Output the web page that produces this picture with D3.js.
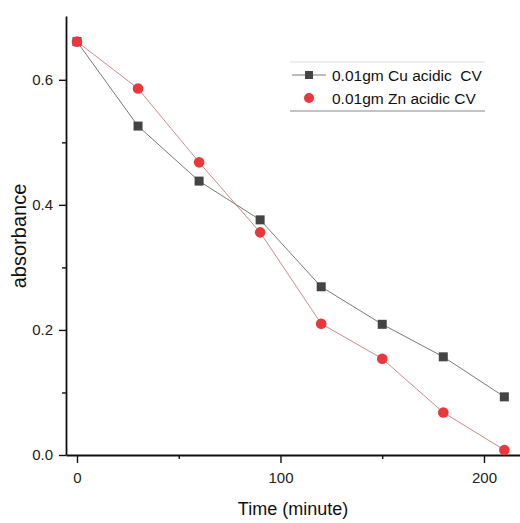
<!DOCTYPE html>
<html>
<head>
<meta charset="utf-8">
<script src="https://cdn.jsdelivr.net/npm/d3@7"></script>
<style>
  body { margin: 0; background: #fff; }
  text { font-family: "Liberation Sans", Arial, sans-serif; }
</style>
</head>
<body>
<div id="chart"></div>
<script>
const times = [0, 30, 60, 90, 120, 150, 180, 210];
const cuValues = [0.661, 0.526, 0.438, 0.376, 0.269, 0.209, 0.157, 0.093];
const znValues = [0.661, 0.586, 0.468, 0.356, 0.210, 0.154, 0.068, 0.008];
const seriesNames = ["0.01gm Cu acidic  CV", "0.01gm Zn acidic CV"];
const xTicks = [0, 100, 200], xMinor = [50, 150];
const yTicks = [0, 0.2, 0.4, 0.6], yMinor = [0.1, 0.3, 0.5];

let width = 520, height = 523;

const svg = d3.select("#chart").append("svg")
    .attr("width", width).attr("height", height);

let x = d3.scaleLinear().domain([-5.4, 217.7]).range([66, 520]);
let y = d3.scaleLinear().domain([0, 0.702]).range([455, 16]);

// axes
const xAxis = svg.append("g").attr("transform", "translate(0,455)")
    .call(d3.axisBottom(x).tickValues(xTicks).tickFormat(d3.format("d"))
        .tickSize(8).tickPadding(9).tickSizeOuter(0));
svg.append("g").attr("transform", "translate(0,455)")
    .call(d3.axisBottom(x).tickValues(xMinor).tickFormat("").tickSize(4).tickSizeOuter(0))
    .select(".domain").remove();

const yAxis = svg.append("g").attr("transform", "translate(66,0)")
    .call(d3.axisLeft(y).tickValues(yTicks).tickFormat(d3.format(".1f"))
        .tickSize(7).tickPadding(6).tickSizeOuter(0));
svg.append("g").attr("transform", "translate(66,0)")
    .call(d3.axisLeft(y).tickValues(yMinor).tickFormat("").tickSize(4).tickSizeOuter(0))
    .select(".domain").remove();

svg.selectAll(".domain").attr("stroke", "#111").attr("stroke-width", 1.8);
svg.selectAll(".tick line").attr("stroke", "#111").attr("stroke-width", 1.4);
svg.selectAll(".tick text").attr("font-size", 15).attr("fill", "#222")
    .attr("font-family", "Liberation Sans, Arial, sans-serif");

// axis titles
svg.append("text").attr("x", 293).attr("y", 515).attr("text-anchor", "middle")
    .attr("font-size", 18).attr("fill", "#111").text("Time (minute)");
svg.append("text").attr("transform", "translate(26,236) rotate(-90)")
    .attr("text-anchor", "middle").attr("font-size", 20).attr("fill", "#111").text("absorbance");

// lines
const cuData = times.map((t, i) => [t, cuValues[i]]);
const znData = times.map((t, i) => [t, znValues[i]]);
const line = d3.line().x(d => x(d[0])).y(d => y(d[1]));

svg.append("path").datum(cuData).attr("d", line)
    .attr("fill", "none").attr("stroke", "#555").attr("stroke-width", 0.8);
svg.append("path").datum(znData).attr("d", line)
    .attr("fill", "none").attr("stroke", "#c86a6a").attr("stroke-width", 0.8);

// markers
svg.selectAll(".cu").data(cuData).enter().append("rect")
    .attr("class", "cu")
    .attr("x", d => x(d[0]) - 4.5).attr("y", d => y(d[1]) - 4.5)
    .attr("width", 9).attr("height", 9).attr("fill", "#444");

svg.selectAll(".zn").data(znData).enter().append("circle")
    .attr("class", "zn")
    .attr("cx", d => x(d[0])).attr("cy", d => y(d[1]))
    .attr("r", 5.3).attr("fill", "#e8383b");

// legend
const legend = svg.append("g");
legend.append("line").attr("x1", 290).attr("x2", 485).attr("y1", 62).attr("y2", 62)
    .attr("stroke", "#ddd").attr("stroke-width", 1);
legend.append("line").attr("x1", 290).attr("x2", 485).attr("y1", 111).attr("y2", 111)
    .attr("stroke", "#888").attr("stroke-width", 1.2);
legend.append("line").attr("x1", 292).attr("x2", 326).attr("y1", 75).attr("y2", 75)
    .attr("stroke", "#555").attr("stroke-width", 0.8);
legend.append("rect").attr("x", 305).attr("y", 71).attr("width", 8).attr("height", 8).attr("fill", "#444");
legend.append("circle").attr("cx", 309).attr("cy", 98).attr("r", 5).attr("fill", "#e8383b");
legend.selectAll(".lt").data(seriesNames).enter().append("text")
    .attr("class", "lt")
    .attr("x", 332).attr("y", (d, i) => 80.5 + i * 23)
    .attr("font-size", 15.5).attr("fill", "#111")
    .style("white-space", "pre")
    .text(d => d);
</script>
</body>
</html>
